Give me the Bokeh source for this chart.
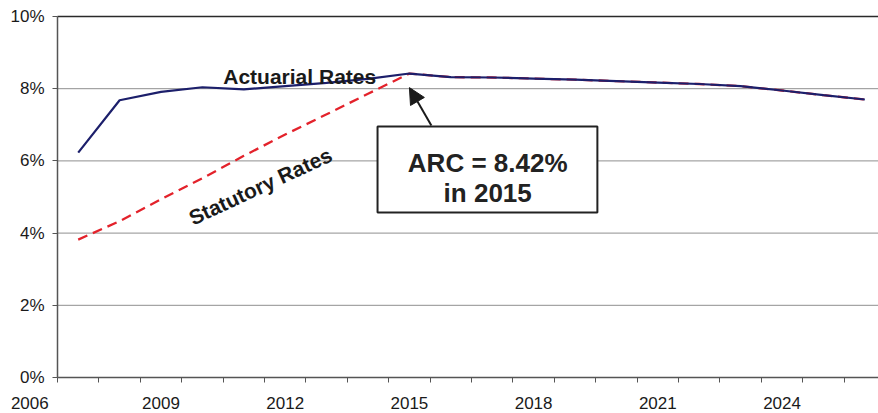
from bokeh.plotting import figure
from bokeh.models import (FixedTicker, Range1d, BoxAnnotation, Label,
                          Arrow, NormalHead)
from bokeh.embed import file_html
from bokeh.resources import INLINE

# Contribution rates, percent of pay
years = [2007, 2008, 2009, 2010, 2011, 2012, 2013, 2014, 2015, 2016,
         2017, 2018, 2019, 2020, 2021, 2022, 2023, 2024, 2025, 2026]
actuarial = [6.23, 7.68, 7.91, 8.04, 7.98, 8.07, 8.16, 8.27, 8.42, 8.32,
             8.31, 8.28, 8.25, 8.21, 8.17, 8.13, 8.07, 7.95, 7.82, 7.70]
statutory = [3.82, 4.33, 4.94, 5.52, 6.14, 6.73, 7.29, 7.86, 8.42, 8.32,
             8.31, 8.28, 8.25, 8.21, 8.17, 8.13, 8.07, 7.95, 7.82, 7.70]

year_labels = [2009, 2012, 2015, 2018, 2021, 2024]
first_year_label = 2006
pct_ticks = [0, 2, 4, 6, 8, 10]
arc_year = 2015
arc_value = 8.42

FONT = "Liberation Sans"
AXIS_GREY = "#555555"
TEXT = "#1a1a1a"

# the time axis starts half a year before the first point
X0 = 2006.5
X_END = 2026.33

# The frame fills the whole canvas; both axes are pinned inside it so the
# first year label can sit to the left of the value axis.
p = figure(width=878, height=413, output_backend="svg", toolbar_location=None,
           x_range=Range1d(2005.123, X_END), y_range=Range1d(-0.997, 10.443),
           min_border=0)
p.outline_line_color = None
p.background_fill_color = "white"
p.border_fill_color = "white"
p.xgrid.visible = False
p.ygrid.visible = False

# x axis: tick marks between years, labels every third year
p.xaxis.fixed_location = 0
p.xaxis.bounds = (X0, X_END)
p.xaxis.ticker = FixedTicker(ticks=year_labels,
                             minor_ticks=[X0 + k for k in range(21)])
p.xaxis.major_tick_line_color = None
p.xaxis.minor_tick_line_color = AXIS_GREY
p.xaxis.minor_tick_out = 5
p.xaxis.minor_tick_in = 0
p.xaxis.axis_line_color = AXIS_GREY
p.xaxis.axis_line_width = 1.5
p.xaxis.major_label_text_font = FONT
p.xaxis.major_label_text_font_size = "17px"
p.xaxis.major_label_text_color = TEXT
p.xaxis.major_label_standoff = 13

# y axis in percent
p.yaxis.fixed_location = X0
p.yaxis.bounds = (0, 10)
p.yaxis.ticker = FixedTicker(ticks=pct_ticks)
p.yaxis.major_label_overrides = {t: f"{t}%" for t in pct_ticks}
p.yaxis.major_tick_line_color = AXIS_GREY
p.yaxis.major_tick_out = 5
p.yaxis.major_tick_in = 0
p.yaxis.minor_tick_line_color = None
p.yaxis.axis_line_color = AXIS_GREY
p.yaxis.axis_line_width = 1.5
p.yaxis.major_label_text_font = FONT
p.yaxis.major_label_text_font_size = "17px"
p.yaxis.major_label_text_color = TEXT
p.yaxis.major_label_standoff = 8

# horizontal gridlines from the value axis to the right edge; top one darker
grid_levels = pct_ticks[1:]
p.segment(x0=[X0] * len(grid_levels), x1=[X_END] * len(grid_levels),
          y0=grid_levels, y1=grid_levels,
          line_color=["#8f8f8f"] * (len(grid_levels) - 1) + ["#2a2a2a"],
          line_width=[1] * (len(grid_levels) - 1) + [1.5])

# label for the left end of the time axis
p.add_layout(Label(x=first_year_label, y=-0.70, x_offset=-7,
                   text=str(first_year_label), text_font=FONT,
                   text_font_size="17px", text_color=TEXT,
                   text_align="center", text_baseline="middle"))

# series
p.line(years, statutory, line_color="#e3222b", line_width=2.3,
       line_dash="10 6")
p.line(years, actuarial, line_color="#1c1f6b", line_width=2.2)

# series captions
p.add_layout(Label(x=2012.35, y=8.34, text="Actuarial Rates", text_font=FONT,
                   text_font_size="21px", text_font_style="bold",
                   text_color=TEXT, text_align="center",
                   text_baseline="alphabetic"))
p.add_layout(Label(x=2011.40, y=5.30, text="Statutory Rates", text_font=FONT,
                   text_font_size="21px", text_font_style="bold",
                   text_color=TEXT, text_align="center",
                   text_baseline="alphabetic", angle=0.435))

# callout box with arrow pointing at the 2015 rate
p.add_layout(BoxAnnotation(left=2014.23, right=2019.54, bottom=4.57, top=6.95,
                           fill_color="white", fill_alpha=1.0,
                           line_color="#222222", line_width=2, line_alpha=1.0))
p.add_layout(Label(x=2016.89, y=5.93, text=f"ARC = {arc_value:.2f}%",
                   text_font=FONT, text_font_size="26px",
                   text_font_style="bold", text_color="#222222",
                   text_align="center", text_baseline="alphabetic"))
p.add_layout(Label(x=2016.89, y=5.10, text=f"in {arc_year}",
                   text_font=FONT, text_font_size="26px",
                   text_font_style="bold", text_color="#222222",
                   text_align="center", text_baseline="alphabetic"))
p.add_layout(Arrow(x_start=2015.53, y_start=6.98, x_end=arc_year, y_end=8.03,
                   line_color=TEXT, line_width=2,
                   end=NormalHead(size=16, fill_color=TEXT, line_color=TEXT)))

open("out.html", "w").write(file_html(p, INLINE))
